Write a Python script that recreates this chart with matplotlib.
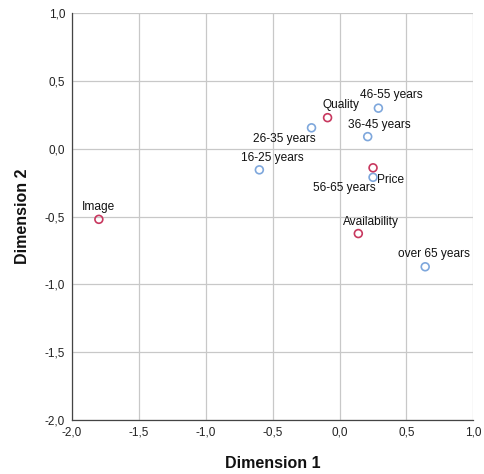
import matplotlib
matplotlib.use("Agg")
import matplotlib.pyplot as plt
from matplotlib.ticker import FixedLocator, FuncFormatter

plt.rcParams['font.family'] = ['Liberation Sans', 'DejaVu Sans']

# Row points (red)
row_labels = ["Image", "Quality", "Price", "Availability"]
row_x = [-1.80, -0.09, 0.25, 0.14]
row_y = [-0.52, 0.23, -0.14, -0.625]

# Column points (blue)
col_labels = ["16-25 years", "26-35 years", "36-45 years", "46-55 years", "56-65 years", "over 65 years"]
col_x = [-0.60, -0.21, 0.21, 0.29, 0.25, 0.64]
col_y = [-0.155, 0.155, 0.09, 0.30, -0.21, -0.87]

ticks = [-2.0, -1.5, -1.0, -0.5, 0.0, 0.5, 1.0]

# label offsets in points (dx, dy) and alignment
row_off = {"Image": (0, 8.6, 'center'), "Quality": (-3.6, 9.4, 'left'),
           "Price": (2.9, -8.6, 'left'), "Availability": (9, 8, 'center')}
col_off = {"16-25 years": (9, 8.6, 'center'), "26-35 years": (-19.4, -8, 'center'),
           "36-45 years": (8.6, 8.6, 'center'), "46-55 years": (9.4, 9.4, 'center'),
           "56-65 years": (-21, -8, 'center'), "over 65 years": (6.5, 9.4, 'center')}

fig = plt.figure(figsize=(4.84, 4.74), dpi=100)
ax = fig.add_axes([0.149, 0.114, 0.829, 0.858])
ax.set_xlim(-2, 1)
ax.set_ylim(-2, 1)
ax.xaxis.set_major_locator(FixedLocator(ticks))
ax.yaxis.set_major_locator(FixedLocator(ticks))
fmt = FuncFormatter(lambda v, p: f"{v:.1f}".replace('.', ','))
ax.xaxis.set_major_formatter(fmt)
ax.yaxis.set_major_formatter(fmt)
ax.grid(True, color='#c8c8c8', linewidth=0.9)
ax.set_axisbelow(True)
for s in ['top', 'right']:
    ax.spines[s].set_visible(False)
for s in ['left', 'bottom']:
    ax.spines[s].set_color('#444444')
    ax.spines[s].set_linewidth(0.9)
ax.tick_params(length=0, labelsize=8.5, colors='#222222', pad=5)

ax.scatter(col_x, col_y, s=32, facecolors='none', edgecolors='#7ea7dc', linewidths=1.2, zorder=3)
ax.scatter(row_x, row_y, s=32, facecolors='none', edgecolors='#c8385f', linewidths=1.2, zorder=3)

for lab, x, y in zip(row_labels, row_x, row_y):
    dx, dy, ha = row_off[lab]
    ax.annotate(lab, (x, y), xytext=(dx, dy), textcoords='offset points', ha=ha, va='center',
                fontsize=8.6, color='#111111')
for lab, x, y in zip(col_labels, col_x, col_y):
    dx, dy, ha = col_off[lab]
    ax.annotate(lab, (x, y), xytext=(dx, dy), textcoords='offset points', ha=ha, va='center',
                fontsize=8.6, color='#111111')

ax.set_xlabel("Dimension 1", fontsize=11.5, fontweight='bold', labelpad=12, color='#111111')
ax.set_ylabel("Dimension 2", fontsize=11.5, fontweight='bold', labelpad=11, color='#111111')

fig.savefig("out.png", dpi=100)
